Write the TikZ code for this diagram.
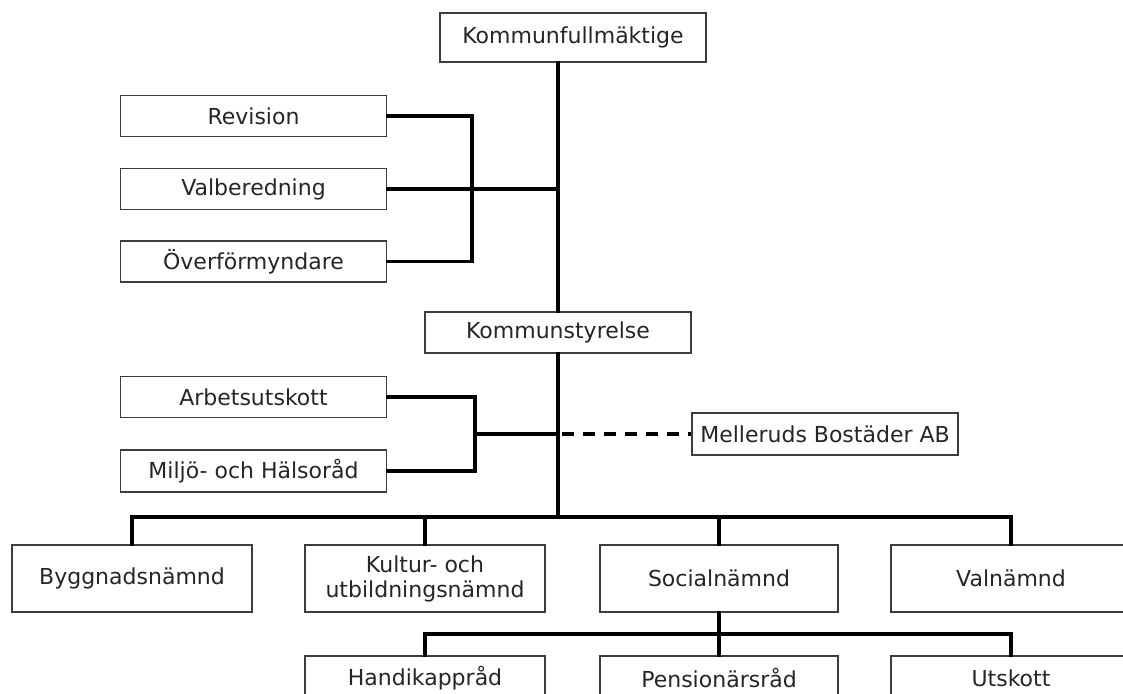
\documentclass[tikz,border=0pt]{standalone}
\usepackage{fontspec}
\setmainfont{DejaVu Sans}
\definecolor{boxgray}{HTML}{3C3C3C}
\definecolor{textgray}{HTML}{262626}
\begin{document}
\begin{tikzpicture}[x=1pt,y=-1pt,
  box/.style={draw=boxgray, line width=1.7pt, fill=white, inner sep=0pt,
    text=textgray, font=\fontsize{22}{25}\selectfont, align=center},
  conn/.style={line width=3.2pt, black, line cap=rect, line join=miter},
  dconn/.style={line width=3.4pt, black, dash pattern=on 12pt off 9pt}]
\useasboundingbox (0,0) rectangle (1123,693);
% top
\node[box, minimum width=266pt, minimum height=49pt] (kf) at (573,37.5) {Kommunfullmäktige};
\node[box, minimum width=266pt, minimum height=41pt] (rev) at (253.5,116) {Revision};
\node[box, minimum width=266pt, minimum height=41pt] (valb) at (253.5,189) {Valberedning};
\node[box, minimum width=266pt, minimum height=41pt] (over) at (253.5,261.5) {Överförmyndare};
\node[box, minimum width=266pt, minimum height=41pt] (ks) at (558,332.5) {Kommunstyrelse};
\node[box, minimum width=266pt, minimum height=41pt] (arb) at (253.5,397) {Arbetsutskott};
\node[box, minimum width=266pt, minimum height=42pt] (milj) at (253.5,471) {Miljö- och Hälsoråd};
\node[box, minimum width=266pt, minimum height=42pt] (mel) at (825,434) {Melleruds Bostäder AB};
% committees
\node[box, minimum width=240pt, minimum height=67pt] (bygg) at (132,578.5) {Byggnadsnämnd};
\node[box, minimum width=240pt, minimum height=67pt] (kult) at (425,578.5) {Kultur- och\\utbildningsnämnd};
\node[box, minimum width=238pt, minimum height=67pt] (soc) at (719,578.5) {Socialnämnd};
\node[box, minimum width=240pt, minimum height=67pt] (valn) at (1011,578.5) {Valnämnd};
% social sub
\node[box, minimum width=240pt, minimum height=44pt] (hand) at (425,678) {Handikappråd};
\node[box, minimum width=238pt, minimum height=44pt] (pens) at (719,678) {Pensionärsråd};
\node[box, minimum width=240pt, minimum height=44pt] (utsk) at (1011,678) {Utskott};
% helper coordinates
\coordinate (b1) at (472,0);
\coordinate (b2) at (475,0);
\coordinate (bus) at (0,517);
\coordinate (bus2) at (0,634);
% connectors
\draw[conn] (ks.north |- kf.south) -- (ks.north);
\draw[conn] (valb.east) -- (valb.east -| ks.north);
\draw[conn] (rev.east) -- (rev.east -| b1) -- (over.east -| b1) -- (over.east);
\draw[conn] (arb.east) -- (arb.east -| b2) -- (milj.east -| b2) -- (milj.east);
\draw[conn] (mel.west -| b2) -- (mel.west -| ks.south);
\draw[dconn] (mel.west -| ks.south) ++(4,0) -- (mel.west);
\draw[conn] (ks.south) -- (ks.south |- bus);
\draw[conn] (bygg.north |- bus) -- (valn.north |- bus);
\foreach \n in {bygg,kult,soc,valn} \draw[conn] (\n.north |- bus) -- (\n.north);
\draw[conn] (soc.south) -- (soc.south |- bus2);
\draw[conn] (hand.north |- bus2) -- (utsk.north |- bus2);
\foreach \n in {hand,pens,utsk} \draw[conn] (\n.north |- bus2) -- (\n.north);
\end{tikzpicture}
\end{document}
